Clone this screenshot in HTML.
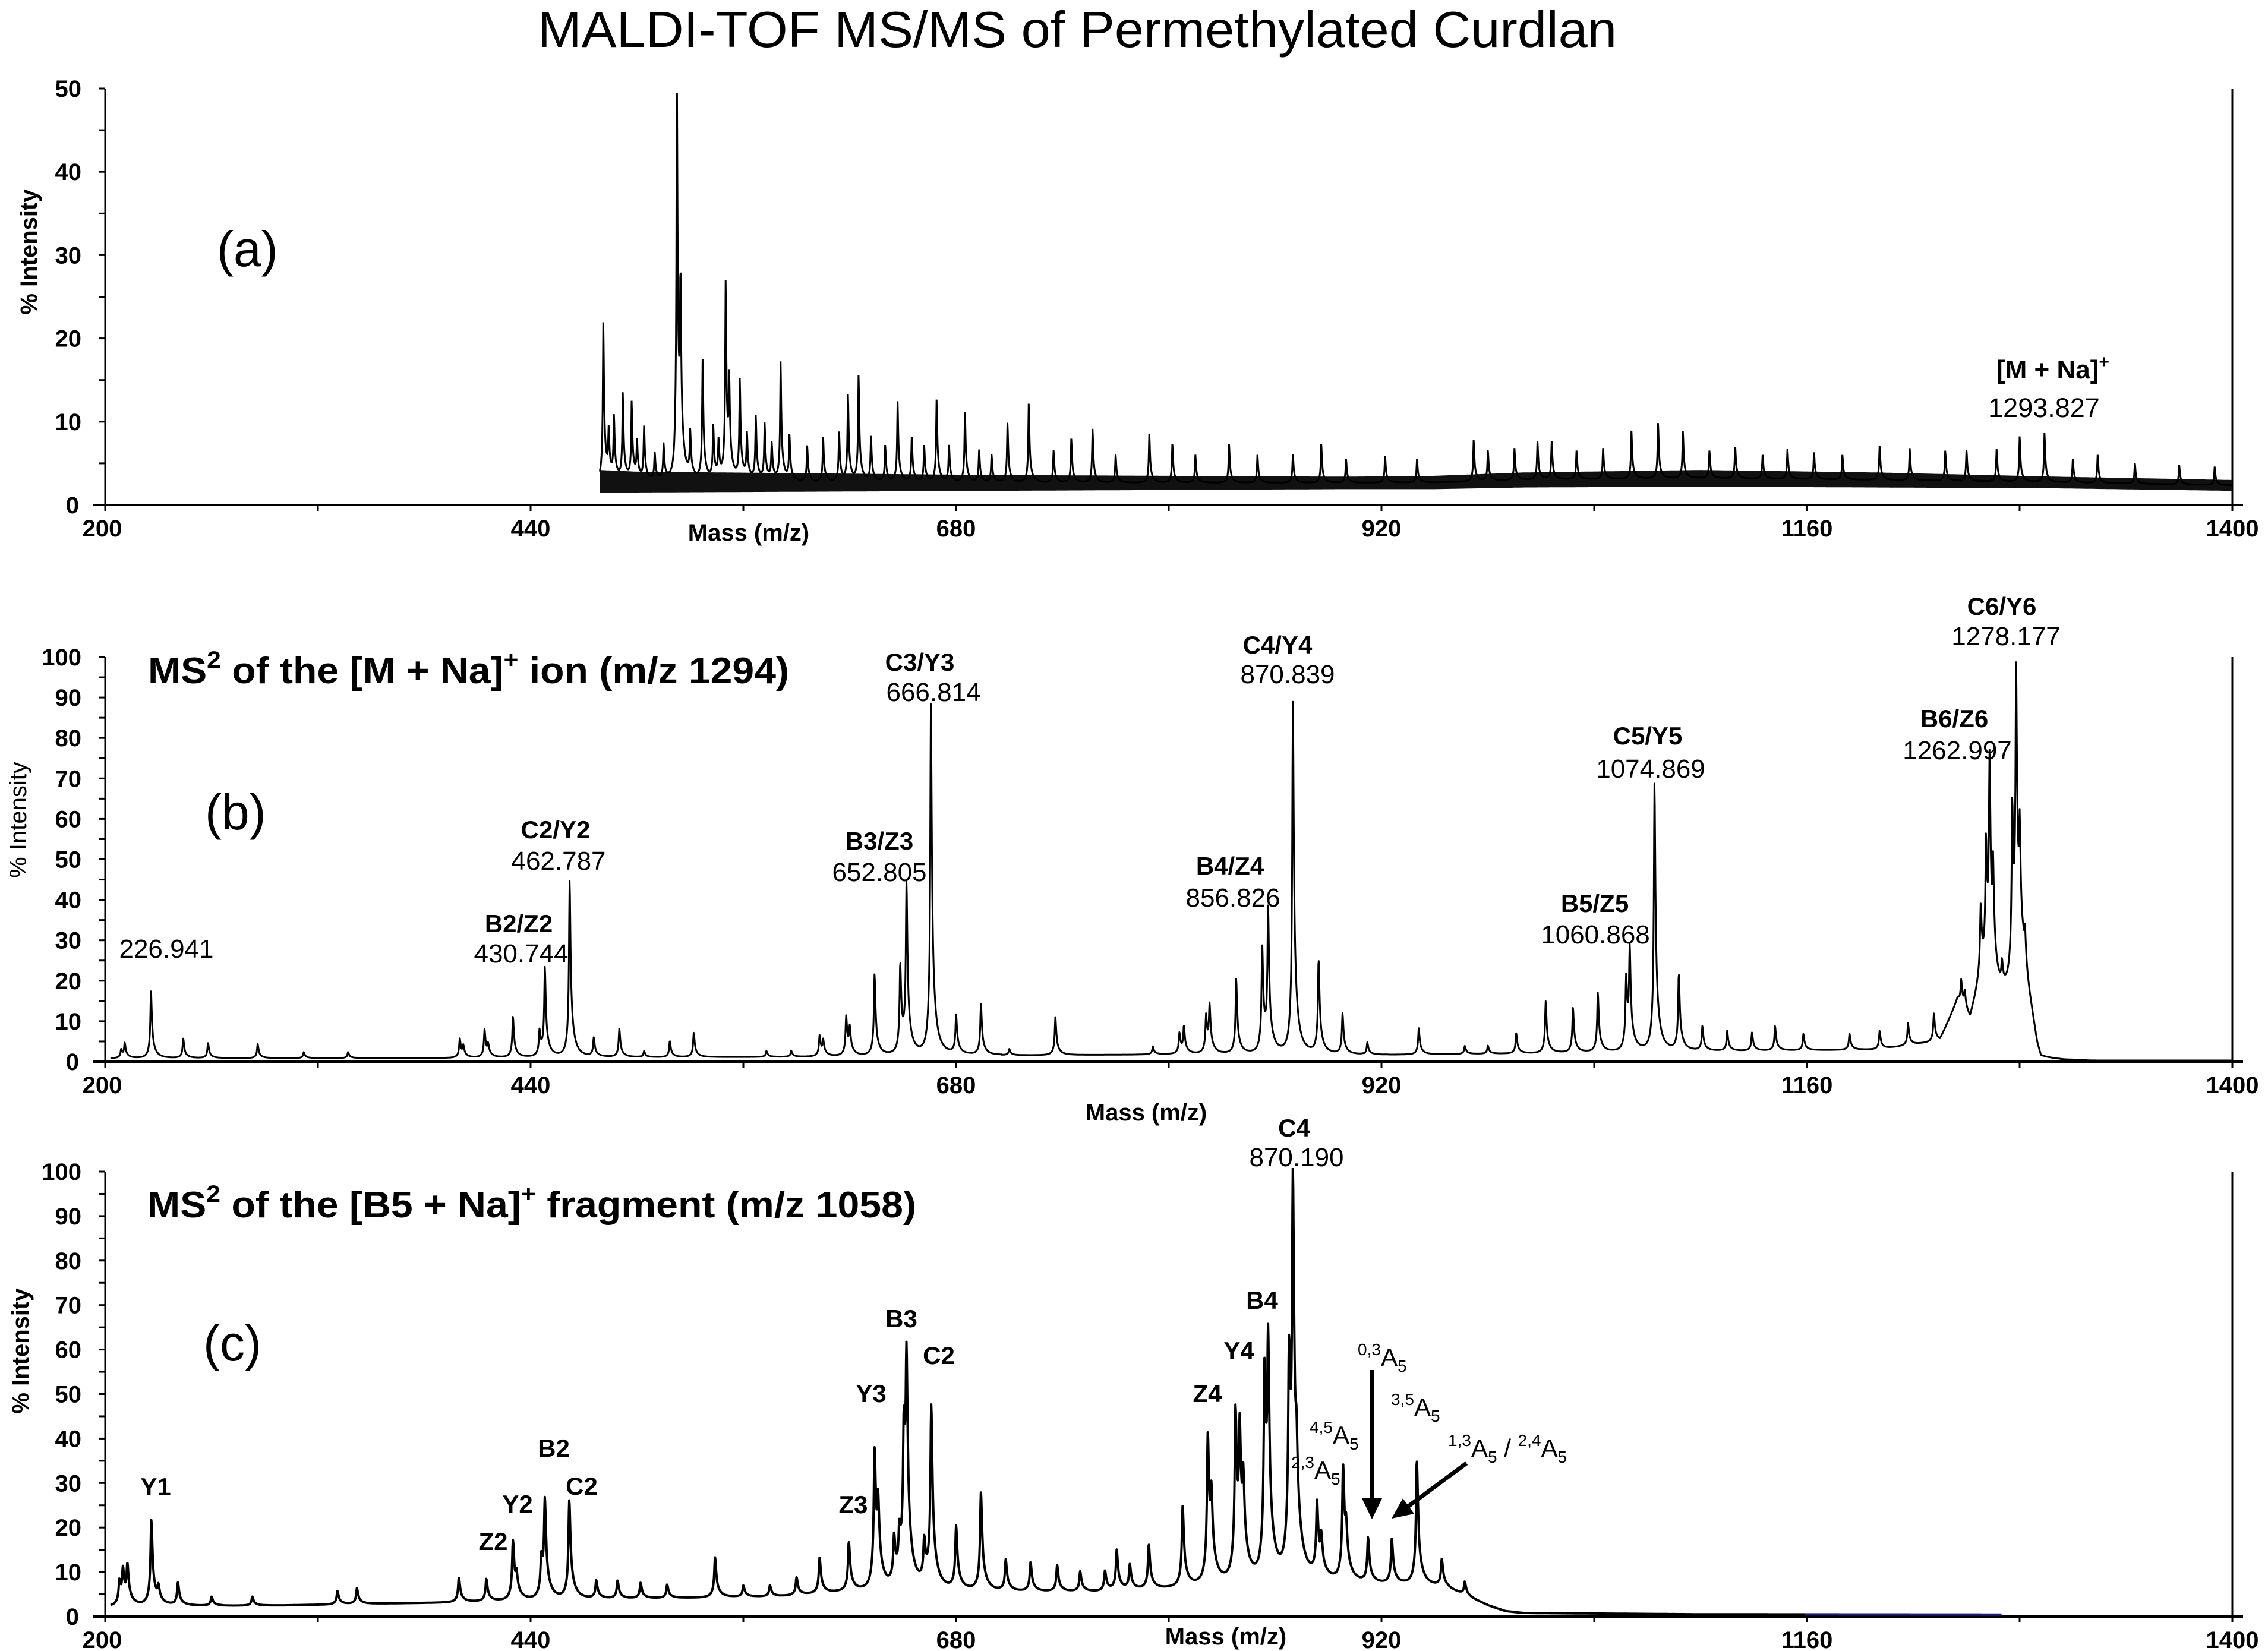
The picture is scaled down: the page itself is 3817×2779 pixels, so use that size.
<!DOCTYPE html>
<html><head><meta charset="utf-8"><title>MALDI-TOF MS/MS of Permethylated Curdlan</title>
<style>html,body{margin:0;padding:0;background:#fff}svg{display:block}text{font-family:"Liberation Sans",Arial,sans-serif;fill:#000}</style>
</head><body>
<svg id="fig" xmlns="http://www.w3.org/2000/svg" width="3817" height="2779" viewBox="0 0 3817 2779">
<rect width="3817" height="2779" fill="#fff"/>
<defs>
<clipPath id="clipa"><rect x="170" y="140" width="3600" height="712"/></clipPath>
<clipPath id="clipb"><rect x="170" y="1100" width="3600" height="689"/></clipPath>
<clipPath id="clipc"><rect x="170" y="1966" width="3600" height="757"/></clipPath>
</defs>
<text x="905" y="79" font-size="85" textLength="1816" lengthAdjust="spacingAndGlyphs">MALDI-TOF MS/MS of Permethylated Curdlan</text>
<g id="pa"></g>
<g id="pb"></g>
<g id="pc"></g>
<g id="ann">
<text x="365" y="448" font-size="84">(a)</text>
<text x="345" y="1396" font-size="84">(b)</text>
<text x="342" y="2290" font-size="84">(c)</text>
<text x="249" y="1150" font-size="62" font-weight="bold" textLength="1079" lengthAdjust="spacingAndGlyphs">MS<tspan font-size="40" dy="-26">2</tspan><tspan dy="26"> of the [M + Na]</tspan><tspan font-size="40" dy="-26">+</tspan><tspan dy="26"> ion (m/z 1294)</tspan></text>
<text x="248" y="2049" font-size="62" font-weight="bold" textLength="1294" lengthAdjust="spacingAndGlyphs">MS<tspan font-size="40" dy="-26">2</tspan><tspan dy="26"> of the [B5 + Na]</tspan><tspan font-size="40" dy="-26">+</tspan><tspan dy="26"> fragment (m/z 1058)</tspan></text>
<text x="3360" y="637" font-size="44" font-weight="bold">[M + Na]<tspan font-size="30" dy="-18">+</tspan></text>
<text x="3440" y="702" font-size="45" text-anchor="middle">1293.827</text>
<text x="2285" y="2299" font-size="42"><tspan font-size="28" dy="-18">0,3</tspan><tspan dy="18">A</tspan><tspan font-size="28" dy="10">5</tspan></text>
<text x="2341" y="2383" font-size="42"><tspan font-size="28" dy="-18">3,5</tspan><tspan dy="18">A</tspan><tspan font-size="28" dy="10">5</tspan></text>
<text x="2204" y="2430" font-size="42"><tspan font-size="28" dy="-18">4,5</tspan><tspan dy="18">A</tspan><tspan font-size="28" dy="10">5</tspan></text>
<text x="2173" y="2489" font-size="42"><tspan font-size="28" dy="-18">2,3</tspan><tspan dy="18">A</tspan><tspan font-size="28" dy="10">5</tspan></text>
<text x="2437" y="2452" font-size="42"><tspan font-size="28" dy="-18">1,3</tspan><tspan dy="18">A</tspan><tspan font-size="28" dy="10">5</tspan><tspan dy="-10"> / </tspan><tspan font-size="28" dy="-18">2,4</tspan><tspan dy="18">A</tspan><tspan font-size="28" dy="10">5</tspan></text>
<g><line x1="2309" y1="2306" x2="2309" y2="2526" stroke="#000" stroke-width="8"/><polygon points="2292,2522 2326,2522 2309,2557" fill="#000"/></g>
<g><line x1="2468" y1="2463" x2="2368" y2="2537" stroke="#000" stroke-width="7"/><polygon points="2342,2556 2380,2548 2361,2522" fill="#000"/></g>
</g>
</svg>
<script>
// ---------- shared axis ----------
const xTicks=[200,320,440,560,680,800,920,1040,1160,1280,1400];
const xTickLabels=["200","","440","","680","","920","","1160","","1400"];
const X0=177,X1=3757,MZMIN=200,MZMAX=1400;
function xs(m){return X0+(m-MZMIN)*(X1-X0)/(MZMAX-MZMIN);}

// ---------- panel (a) data ----------
const aPeaksMz=[481,484,487,492,497,500,504,510,515,522.5,524.5,530,537,543,546,550,552,558,562,567,572,576,581,586,596,605,614,619,625,632,640,647,655,662,669,676,685,693,700,709,721,735,745,757,770,789,802,815,834,850,870,886,900,922,940,972,980,995,1008,1016,1030,1045,1061,1076,1090,1105,1119.5,1135,1149,1164,1180,1201,1218,1238,1250,1267,1280,1294,1310,1324,1345,1370,1390];
const aPeaksInt=[21.7,8,10,13,11.9,7,9,6,7,50,23,8,17,9,7,25.9,13,14.5,8,10.3,9.4,7,16.9,8,7,8,8.6,13,15.3,8,7,12.3,8,7,12.5,7,11,6.5,6,9.8,12.1,6.5,7.9,9.1,6,8.5,7.3,6,7.3,6,6.1,7.3,5.5,5.9,5.5,7.8,6.5,6.8,7.6,7.6,6.5,6.8,8.9,9.8,8.8,6.5,7.1,6,6.7,6.3,6,7.1,6.8,6.5,6.6,6.7,8.2,8.6,5.5,6,5,4.8,4.6];
const aBandMz=[479,500,600,700,800,900,950,1000,1100,1200,1300,1400];
const aBandLow=[1.5,1.5,1.6,1.7,1.8,1.9,1.9,2.1,2.2,2.1,2.0,1.7];
const aBandHigh=[4.2,4.0,3.8,3.6,3.5,3.4,3.5,3.9,4.2,3.9,3.4,3.0];

// ---------- panel (b) data ----------
const bPeaksMz=[209,211,225.8,244,258,286,312,337,400,402,414,416,430,445,448,462,475.6,490,504,518.5,532,573,587,603,605,618,620,634,648.5,652,665.8,680,694,710,736,791,806,808.5,821,823,838,852.7,856,870,884.5,898,912,941,967,980,996,1012.6,1028,1042,1058,1060,1074,1087.7,1101,1115,1129,1142,1158,1184,1201,1217,1231.6,1247,1249,1258,1261,1263,1265,1270,1275.8,1278,1280,1283];
const bPeaksInt=[2,3.5,16.5,4.8,3.7,3.5,1.5,1.5,4.6,2.5,6.8,2.5,10,6,21.6,43.4,4.6,7,1.5,4,6,1.5,1.5,5,3.5,9.5,6,20,21.5,41,86.5,9.5,12.6,1.5,9.4,2,5,6.5,9,11,18.5,25.8,34,86.8,23,10,3,6.5,2,2,5,12.8,11,14.7,17,23.5,66,18.8,6,5,4.5,6,4,4,4.5,5.5,7,6,4,16,30,50,22,6,40,70,26,8];
const bBaseMz=[200,400,600,700,800,900,1000,1100,1200,1235,1245,1252,1258,1270,1282,1287,1290,1292,1400];
const bBaseInt=[0.8,0.9,1.2,1.5,1.8,1.6,2.0,2.5,3.0,5,15,10,20,15,20,10,3,0.3,0.3];

// ---------- panel (c) data ----------
const cPeaksMz=[208,210,212.5,226,230,241,260,283,331,342,399.5,415,430,432,446,448,461.8,477,489,502,517,544,560,575,590,603,619.5,634,636,645,648,650.5,652,662,666,680,694,708,722,737,750,764,770.6,778,788.7,807.8,822,824,837.6,840,842,854,856,867.8,870,872,883.6,886,898.3,900,912.4,925.8,939.9,954,967];
const cPeaksInt=[5,7,8,19,3,5,2,2,3,3.5,5.5,5,13,4,8,21,22,4,4,3.5,3,9,2.5,2.5,4,8,11,30,15,10,9,30,44,9,40,14,22,7,6.5,6,4.5,4.5,9,5.5,10,18,32,15,36,28,16,43,46,44,80,14,16,7,25,8,10,10,28,6,3];
const cBaseMz=[200,300,400,500,580,620,680,720,760,790,830,870,940,955,965,980,990,1000,1100,1400];
const cBaseInt=[2.2,2.5,3.2,4.0,4.5,5.5,5.5,5.5,5.5,6,7,7.5,7,6.5,5,2.5,1.2,0.8,0.5,0.4];
const cLabels=["Y1","Z2","Y2","B2","C2","Z3","Y3","B3","C2","Z4","Y4","B4"];
const bLabelNames=["B2/Z2","C2/Y2","B3/Z3","C3/Y3","B4/Z4","C4/Y4","B5/Z5","C5/Y5","B6/Z6","C6/Y6"];
const bLabelMasses=["430.744","462.787","652.805","666.814","856.826","870.839","1060.868","1074.869","1262.997","1278.177"];

const NS="http://www.w3.org/2000/svg";
function mk(tag,attrs,parent){const e=document.createElementNS(NS,tag);for(const k in attrs)e.setAttribute(k,attrs[k]);if(parent)parent.appendChild(e);return e;}
function interp(xa,ya,m){if(m<=xa[0])return ya[0];for(let i=1;i<xa.length;i++){if(m<=xa[i]){const t=(m-xa[i-1])/(xa[i]-xa[i-1]);return ya[i-1]+t*(ya[i]-ya[i-1]);}}return ya[ya.length-1];}
function prof(m,mu,w){const d=m-mu;const ww=d>0?w*1.7:w;const r=d/ww,r2=d/(ww*4);return 0.78/(1+r*r)+0.22/(1+r2*r2);}

function drawAxes(g,cfg){
  const ys=v=>cfg.y0-(v/cfg.ymax)*(cfg.y0-cfg.yTop);
  const ax=mk('g',{},g);
  
  
  mk('line',{x1:X0,y1:cfg.yTop,x2:X0,y2:cfg.y0+2,stroke:'#000','stroke-width':3},ax);
  mk('line',{x1:157,y1:cfg.y0,x2:3775,y2:cfg.y0,stroke:'#000','stroke-width':4},ax);
  mk('line',{x1:X1,y1:cfg.yTop,x2:X1,y2:cfg.y0,stroke:'#000','stroke-width':3},ax);
  for(let v=0;v<=cfg.ymax;v+=5){
    const t=mk('line',{x1:X0-10,y1:ys(v),x2:X0,y2:ys(v),stroke:'#000','stroke-width':3},ax);
    
    
    if(v%10===0){
      const l=mk('text',{x:v===0?133:137,y:ys(v)+14,'font-size':40,'font-weight':'bold','text-anchor':'end'},ax);
      l.textContent=String(v);
      
      
    }
  }
  xTicks.forEach((m,i)=>{
    const t=mk('line',{x1:xs(m),y1:cfg.y0,x2:xs(m),y2:cfg.y0+10,stroke:'#000','stroke-width':3},ax);
    
    
    if(xTickLabels[i]){
      const l=mk('text',{x:xs(m)+(m===200?-5:0),y:cfg.y0+53,'font-size':40,'font-weight':'bold','text-anchor':'middle'},ax);
      l.textContent=xTickLabels[i];
      
      
    }
  });
  const xt=mk('text',{x:cfg.massX,y:cfg.massY,'font-size':40,'font-weight':'bold','text-anchor':'middle'},ax);
  xt.textContent='Mass (m/z)';
  
  
  const yt=mk('text',{x:0,y:0,'font-size':40,'font-weight':cfg.yBold?'bold':'normal','text-anchor':'middle',transform:`translate(${cfg.ytX},${cfg.ytY}) rotate(-90)`},ax);
  yt.textContent='% Intensity';
  
  
  return ys;
}

function spectrumPath(peaksMz,peaksInt,baseMz,baseInt,w,ys,m0,m1){
  let d='';
  for(let m=m0;m<=m1;m+=0.2){
    let v=interp(baseMz,baseInt,m);
    for(let i=0;i<peaksMz.length;i++){
      const mu=peaksMz[i];if(Math.abs(m-mu)>40)continue;
      v+=peaksInt[i]*prof(m,mu,w);
    }
    d+=(d?'L':'M')+xs(m).toFixed(1)+','+ys(v).toFixed(1);
  }
  return d;
}

// ---- Panel A ----
(function(){
  const g=document.getElementById('pa');
  const cfg={key:'panel-a',yTop:149,y0:850,ymax:50,massX:1260,massY:910,ytX:62,ytY:424,yBold:true};
  const ys=drawAxes(g,cfg);
  const sg=mk('g',{'clip-path':'url(#clipa)'},g);
  let up='',lo='';
  for(let m=aBandMz[0];m<=MZMAX;m+=1){up+=(up?'L':'M')+xs(m).toFixed(1)+','+ys(interp(aBandMz,aBandHigh,m)).toFixed(1);}
  for(let m=MZMAX;m>=aBandMz[0];m-=1){lo+='L'+xs(m).toFixed(1)+','+ys(interp(aBandMz,aBandLow,m)).toFixed(1);}
  const band=mk('path',{d:up+lo+'Z',fill:'#111',stroke:'none'},sg);
  
  
  const mid=aBandMz.map((m,i)=>(aBandLow[i]+aBandHigh[i])/2);
  const d=spectrumPath(aPeaksMz,aPeaksInt.map((v,i)=>v-interp(aBandMz,mid,aPeaksMz[i])),aBandMz,mid,0.25,ys,aBandMz[0],MZMAX);
  const p=mk('path',{d:d,fill:'none',stroke:'#000','stroke-width':3},sg);
  
  
})();

// ---- Panel B ----
(function(){
  const g=document.getElementById('pb');
  const cfg={key:'panel-b',yTop:1106,y0:1787,ymax:100,massX:1929,massY:1886,ytX:44,ytY:1380,yBold:false};
  const ys=drawAxes(g,cfg);
  const sg=mk('g',{'clip-path':'url(#clipb)'},g);
  const d=spectrumPath(bPeaksMz,bPeaksInt,bBaseMz,bBaseInt,0.35,ys,203,MZMAX);
  const p=mk('path',{d:d,fill:'none',stroke:'#000','stroke-width':3,'stroke-linejoin':'round'},sg);
  
  
  const nx=[873,935,1480,1548,2070,2150,2684,2773,3289,3369];
  const ny=[1569,1411,1430,1129,1472,1100,1535,1253,1224,1035];
  const mx=[877,940,1480,1571,2075,2167,2685,2778,3294,3376];
  const my=[1620,1464,1483,1180,1526,1150,1588,1309,1278,1086];
  bLabelNames.forEach((s,i)=>{
    const t=mk('text',{x:nx[i],y:ny[i],'font-size':42,'font-weight':'bold','text-anchor':'middle'},g);
    t.textContent=s;
    
    
    const t2=mk('text',{x:mx[i],y:my[i],'font-size':44,'text-anchor':'middle'},g);
    t2.textContent=bLabelMasses[i];
    
    
  });
  const t3=mk('text',{x:280,y:1612,'font-size':44,'text-anchor':'middle'},g);
  t3.textContent='226.941';
  
  
})();

// ---- Panel C ----
(function(){
  const g=document.getElementById('pc');
  const cfg={key:'panel-c',yTop:1972,y0:2721,ymax:100,massX:2063,massY:2768,ytX:48,ytY:2274,yBold:true};
  const ys=drawAxes(g,cfg);
  const sg=mk('g',{'clip-path':'url(#clipc)'},g);
  const d=spectrumPath(cPeaksMz,cPeaksInt,cBaseMz,cBaseInt,0.45,ys,203,1159);
  const p=mk('path',{d:d,fill:'none',stroke:'#000','stroke-width':4,'stroke-linejoin':'round'},sg);
  
  
  const d2=spectrumPath(cPeaksMz,cPeaksInt,cBaseMz,cBaseInt,0.45,ys,1159,1270);
  const p2=mk('path',{d:d2,fill:'none',stroke:'#1a1a8a','stroke-width':4},sg);
  
  
  const lx=[262,830,871,932,979,1436,1466,1517,1580,2032,2085,2124];
  const ly=[2517,2609,2546,2452,2516,2547,2360,2234,2296,2360,2288,2203];
  cLabels.forEach((s,i)=>{
    const t=mk('text',{x:lx[i],y:ly[i],'font-size':42,'font-weight':'bold','text-anchor':'middle'},g);
    t.textContent=s;
    
    
  });
  const c4=mk('text',{x:2178,y:1913,'font-size':42,'font-weight':'bold','text-anchor':'middle'},g);
  c4.textContent='C4';
  
  
  const c4m=mk('text',{x:2182,y:1963,'font-size':44,'text-anchor':'middle'},g);
  c4m.textContent='870.190';
  
  
})();
</script>
</body></html>
